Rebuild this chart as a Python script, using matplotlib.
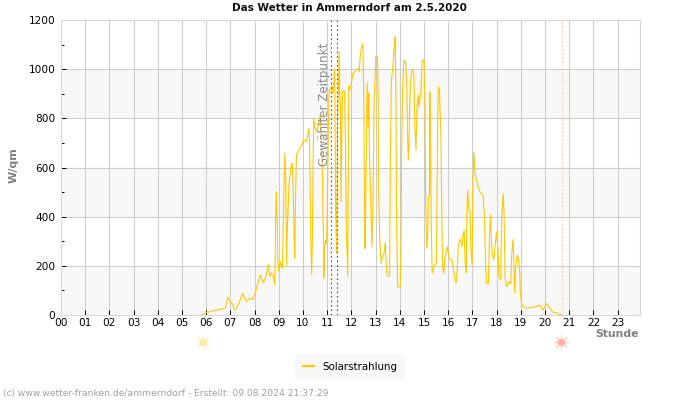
import matplotlib
matplotlib.use("Agg")
import matplotlib.pyplot as plt

# Solarstrahlung
hours = [5.85,6.0,6.3,6.6,6.8,6.9,7.0,7.1,7.15,7.25,7.4,7.5,7.6,7.67,7.8,7.9,8.0,8.1,8.23,8.36,8.47,8.57,8.63,8.7,8.77,8.83,
	8.85,8.87,8.9,8.93,8.96,9.0,9.07,9.15,9.18,9.22,9.25,9.29,9.32,9.34,9.39,9.43,9.48,9.52,9.56,9.59,9.63,9.66,9.69,9.73,9.83,9.96,
	10.03,10.14,10.2,10.25,10.28,10.32,10.36,10.39,10.42,10.45,10.5,10.58,10.67,10.72,10.8,10.85,10.86,10.89,10.93,10.97,
	11.0,11.04,11.08,11.15,11.2,11.23,11.27,11.31,11.35,11.39,11.42,11.45,11.49,11.52,11.55,11.57,11.63,11.72,11.75,11.79,11.85,11.86,11.89,11.93,11.97,
	12.07,12.14,12.28,12.32,12.37,12.41,12.48,12.51,12.54,12.56,12.59,12.65,12.69,12.72,12.74,12.78,12.81,12.85,12.9,12.94,
	13.01,13.08,13.11,13.12,13.17,13.23,13.28,13.33,13.37,13.4,13.43,13.47,13.5,13.58,13.59,13.62,13.65,13.7,13.74,13.79,13.81,13.84,13.87,13.91,
	14.02,14.05,14.08,14.12,14.17,14.24,14.29,14.32,14.35,14.38,14.4,14.46,14.51,14.58,14.63,14.67,14.71,14.76,14.79,14.83,14.87,14.9,14.93,
	15.0,15.04,15.07,15.11,15.15,15.18,15.23,15.24,15.27,15.3,15.34,15.4,15.45,15.51,15.53,15.56,15.59,15.64,15.7,15.74,15.77,15.82,15.86,15.93,15.97,
	16.03,16.1,16.17,16.22,16.28,16.33,16.39,16.41,16.46,16.51,16.57,16.61,16.66,16.7,16.75,16.77,16.81,16.85,16.9,16.94,16.99,
	17.02,17.06,17.11,17.2,17.31,17.44,17.5,17.54,17.58,17.66,17.71,17.75,17.79,17.83,17.88,17.95,17.99,
	18.06,18.1,18.17,18.21,18.27,18.31,18.35,18.42,18.5,18.59,18.63,18.68,18.75,18.79,18.85,18.9,18.96,18.98,
	19.03,19.09,19.23,19.62,19.78,19.92,20.06,20.2,20.33,20.47,20.58,20.68]
watt = [0,10,17,23,30,73,50,45,20,25,60,88,65,55,68,63,80,115,164,130,157,205,157,171,157,123,
	217,400,502,407,224,177,217,190,346,543,658,543,204,312,448,543,583,611,617,522,333,231,468,651,671,692,
	712,705,733,760,658,319,163,319,631,800,760,746,794,814,583,292,150,272,305,290,
	414,700,916,916,929,902,949,997,427,251,760,868,1072,882,868,461,909,909,726,353,156,353,929,916,929,
	983,990,1004,990,1058,1085,1103,875,482,271,441,943,766,902,678,549,414,278,509,868,
	1051,1051,874,528,312,210,237,244,264,291,223,162,158,158,352,732,949,996,1051,1105,1132,874,372,115,
	115,311,698,928,1037,1030,928,732,630,698,827,969,996,983,752,671,841,895,847,881,895,990,1037,
	1035,841,468,271,325,481,481,908,719,353,170,190,203,210,386,746,929,915,725,373,197,170,230,264,278,
	230,224,224,183,149,129,210,271,298,308,278,319,346,210,170,420,508,427,420,264,203,
	549,664,576,535,501,488,400,224,129,129,339,407,291,244,224,291,339,
	264,156,142,400,492,407,149,115,135,128,258,308,88,190,244,230,170,88,
	47,34,27,34,41,20,47,27,11,10,3,0]

hour_labels = ["%02d" % h for h in range(24)]
sunrise = 5.88
sunset = 20.69
selected = [11.16, 11.42]

fig = plt.figure(figsize=(7, 4), dpi=100)
ax = fig.add_axes([61/700, 1-315/400, (640-61)/700, 295/400])
ax.set_xlim(0, 579/24.2)
ax.set_ylim(0, 1200)

for lo in range(0, 1200, 400):
	ax.axhspan(lo, lo+200, color="#f8f8f8", lw=0, zorder=0)
ax.grid(True, color="#cccccc", lw=0.75, zorder=1)
ax.set_axisbelow(True)

ax.plot(hours, watt, color="#ffc800", lw=0.8, zorder=3, label="Solarstrahlung")

ax.axvline(sunrise, color="#fbeeb0", lw=0.8, ls=(0, (1.5, 2)), zorder=2)
ax.axvline(sunset, color="#fbc8a8", lw=0.8, ls=(0, (1.5, 2)), zorder=2)
for s in selected:
	ax.axvline(s, color="#555555", lw=0.8, ls=(0, (1.5, 2.5)), zorder=4)
ax.text(10.9, 1110, "Gewählter Zeitpunkt", rotation=90, color="#8c8c8c", fontsize=8.6,
	ha="center", va="top", zorder=5)

ax.set_xticks(range(24))
ax.set_xticklabels(hour_labels, fontsize=7.6)
ax.set_yticks(range(0, 1201, 200))
ax.set_yticks(range(100, 1200, 200), minor=True)
ax.tick_params(axis="x", direction="in", length=3.5, width=0.7, pad=2.5, color="black")
ax.tick_params(axis="y", which="major", direction="in", length=3.5, width=0.7, pad=4, labelsize=7.6)
ax.tick_params(axis="y", which="minor", direction="in", length=2, width=0.7)
for name in ["top", "left", "right", "bottom"]:
	ax.spines[name].set_color("#d8d8d8")
	ax.spines[name].set_linewidth(0.8)

# sun symbols below the axis
trans = ax.get_xaxis_transform()
for x, col, core in [(sunrise-0.03, "#fdf0c0", "#fde9a0"), (sunset-0.04, "#ffd0c4", "#ffb4a0")]:
	ax.scatter([x], [-0.09], s=95, marker=(8, 2, 0), color=col, lw=0.8, transform=trans, clip_on=False, zorder=6)
	ax.scatter([x], [-0.09], s=28, marker="o", color=core, lw=0, transform=trans, clip_on=False, zorder=7)

fig.text(349.5/700, 1-8/400, "Das Wetter in Ammerndorf am 2.5.2020", fontsize=7.5, fontweight="bold",
	ha="center", va="center", color="#111111")
fig.text(14/700, 1-165/400, "W/qm", fontsize=8, fontweight="bold", rotation=90, ha="center", va="center", color="#808080")
fig.text(639/700, 1-334/400, "Stunde", fontsize=7.8, fontweight="bold", ha="right", va="center", color="#808080")
fig.text(3/700, 1-393.5/400, "(c) www.wetter-franken.de/ammerndorf - Erstellt: 09.08.2024 21:37:29", fontsize=6.6,
	ha="left", va="center", color="#a0a0a0")

leg = fig.legend(loc="center", bbox_to_anchor=(350/700, 1-367/400), frameon=True, fontsize=7.4,
	fancybox=False, handlelength=1.1, borderpad=0.75, handletextpad=0.8, borderaxespad=0)
leg.get_frame().set_facecolor("#f8f8f8")
leg.get_frame().set_edgecolor("none")
leg.get_frame().set_alpha(1)
leg.get_lines()[0].set_linewidth(1.5)

fig.savefig("out.png", dpi=100)
